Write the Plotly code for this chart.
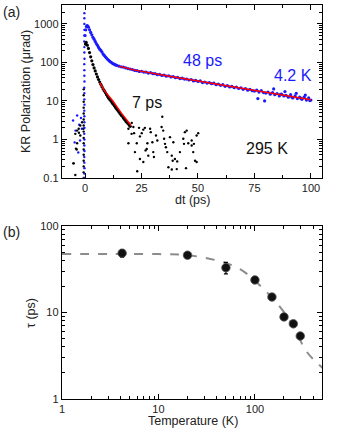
import plotly.graph_objects as go

# ---- panel (a): KR polarization vs delay ----
# 4.2 K trace (blue)
blue_t = [0.0, 0.3, 0.6, 0.9, 1.2, 1.5, 2.0, 2.5, 3.0, 3.5, 4.0, 4.5, 5.0, 5.5, 6.0, 6.5, 7.0, 7.5,
          8.0, 8.5, 9.0, 9.5, 10, 10.5, 11, 11.5, 12, 12.5, 13, 13.5, 14, 15, 16, 17, 18, 19, 20, 21, 22,
          23, 24, 25, 26, 27, 28, 29, 30, 31, 32, 33, 34, 35, 36, 37, 38, 39, 40, 41, 42, 43, 44, 45,
          46, 47, 48, 49, 50, 51, 52, 53, 54, 55, 56, 57, 58, 59, 60, 61, 62, 63, 64, 65, 66, 67, 68,
          69, 70, 71, 72, 73, 74, 75, 76, 77, 78, 79, 80, 81, 82, 83, 84, 85, 86, 87, 88, 89, 90, 91,
          92, 93, 94, 95, 96, 97, 98, 99, 100,
          76.5, 79.5, 83.5, 86.5, 88.5, 91.5, 93.5, 95.5, 97.5, 99.5]
blue_v = [500, 700, 850, 900, 880, 820, 700, 600, 520, 450, 400, 350, 310, 277, 245, 220, 205, 185,
          165, 152, 140, 130, 120, 113, 106, 101, 96, 92, 89, 86, 84, 80, 77, 75, 72, 69, 67, 65, 62,
          61, 58, 59, 56, 56, 53, 54, 51, 51, 48, 49, 46, 47, 44, 45, 42, 43, 40, 41, 38, 39, 37, 37,
          35, 36, 33, 34, 32, 33, 30, 31, 29, 30, 28, 29, 26.5, 27.5, 25.5, 26.5, 24, 25, 23, 24, 22, 23,
          21, 22, 20, 21, 19, 20, 18.5, 18, 19, 17, 18.5, 16.5, 16, 17, 15, 16.5, 14.5, 15.5, 13.5, 15,
          13.5, 14, 12.5, 14.5, 12, 13.5, 11.5, 12.5, 11, 12.5, 10.5, 12, 10.5, 11.5, 10,
          20.5, 14.8, 17.5, 12.6, 15.8, 11.8, 14.2, 10.2, 12.6, 9.4]
blue_pre_t = [-5.3, -4.6, -4.2, -3.5, -3.0, -2.6, -2.2, -1.8, -1.4]
blue_pre_v = [3.1, 0.84, 1.7, 4.2, 0.46, 2.4, 0.94, 3.6, 1.9]
spike_t = [-0.3, -0.35, -0.25, -0.3, -0.35, -0.25, -0.3, -0.3, -0.35, -0.25, -0.3, -0.3, -0.35,
           -0.25, -0.3, -0.3, -0.35, -0.25, -0.3, -0.3, -0.35, -0.25, -0.3, -0.3, -0.35, -0.25,
           -0.3, -0.3, -0.3, -0.3]
spike_v = [0.1, 0.13, 0.18, 0.25, 0.35, 0.5, 0.7, 1.0, 1.4, 2.0, 2.8, 4.0, 5.6, 8, 11, 16, 22, 32,
           45, 63, 90, 125, 180, 250, 350, 500, 700, 1000, 1400, 1900]

# 295 K trace (black)
black_t = [0.2, 0.5, 1.0, 1.5, 2.0, 2.5, 3.0, 3.5, 4.0, 4.5, 5.0, 5.5, 6.0, 6.5, 7.0, 7.5, 8.0,
           8.5, 9.0, 9.5, 10, 10.5, 11, 11.5, 12, 12.5, 13, 13.5, 14, 14.5, 15, 15.5, 16, 16.5, 17,
           17.5, 18, 18.5, 19, 19.5, 20]
black_v = [300, 330, 280, 230, 180, 140, 110, 88, 72, 60, 50, 42, 36, 31, 27, 23.5, 20.5, 18.5,
           16.5, 14.5, 13, 11.8, 10.8, 9.9, 9.0, 8.2, 7.5, 6.8, 6.2, 5.7, 5.2, 4.7, 4.3, 4.0, 3.6,
           3.3, 3.0, 2.8, 2.6, 2.4, 2.2]
black_spike_t = [-0.6] * 16
black_spike_v = [0.1, 0.14, 0.2, 0.28, 0.4, 0.55, 0.8, 1.1, 1.6, 2.3, 3.3, 4.7, 6.7, 9.5, 14, 20]
noise_t = [-5.2, -5.0, -4.3, -4.3, -4.0, -3.7, -3.5, -3.5, -2.8, -2.7, -2.1, -2.1, -1.3, -0.7,
           19.2, 19.2, 20.6, 20.7, 21.4, 21.7, 22.1, 22.9, 23.1, 23.9, 24.3, 24.3, 25.1, 25.8,
           25.8, 26.5, 26.8, 27.3, 27.6, 28.0, 28.8, 29.1, 29.8, 30.2, 30.5, 31.4, 32.0, 33.9,
           34.2, 34.6, 35.0, 35.4, 35.8, 36.4, 36.9, 37.6, 38.4, 38.4, 38.8, 39.1, 39.8, 40.6,
           40.8, 42.0, 43.5, 43.8, 44.2, 44.7, 45.0, 45.7, 47.2, 47.2, 47.9, 48.2, 48.7, 49.4,
           49.4, 50.1]
noise_v = [0.24, 0.24, 1.4, 0.12, 0.58, 0.55, 1.7, 0.8, 1.9, 1.5, 2.3, 1.27, 2.8, 1.9,
           1.9, 0.8, 1.4, 2.7, 2.1, 1.46, 0.47, 0.8, 0.15, 2.0, 0.31, 1.2, 1.46, 0.26,
           1.8, 2.0, 0.52, 0.57, 0.8, 0.38, 1.9, 1.55, 0.85, 0.47, 0.35, 1.27, 0.94, 2.1,
           3.9, 1.7, 1.04, 0.77, 0.63, 0.47, 0.19, 1.15, 0.38, 0.166, 0.28, 0.85, 0.31, 0.17,
           0.27, 0.47, 1.04, 0.77, 1.55, 0.18, 1.7, 0.8, 0.7, 0.94, 0.47, 0.77, 0.28, 1.27,
           0.26, 1.46]

# fits (red)
fit_slow_t = [15, 22, 40, 60, 80, 100]
fit_slow_v = [80, 63, 41, 26.5, 17, 10.8]
fit_fast_t = [6.6, 8.4, 12.4, 16, 20.4]
fit_fast_v = [30, 19, 9.8, 4.9, 2.3]

# ---- panel (b): tau vs temperature ----
temp = [4.2, 20, 50, 100, 150, 200, 250, 295]
tau = [48.5, 46, 33, 23.8, 15.1, 8.9, 7.4, 5.35]
tau_err = [5, 2, 5, 1.5, 1, 0.6, 0.5, 0.3]
curve_T = [1, 3, 10, 20, 40, 70, 120, 185, 250, 345, 500]
curve_tau = [47.5, 47.5, 47.3, 46, 40, 31.7, 19.2, 11.3, 6.9, 3.5, 2.3]

FONT = "Liberation Sans, Arial, sans-serif"

fig = go.Figure()
dot = dict(size=2.4)
fig.add_trace(go.Scatter(x=blue_pre_t, y=blue_pre_v, mode="markers", marker=dict(color="#1a1aff", **dot)))
fig.add_trace(go.Scatter(x=noise_t, y=noise_v, mode="markers", marker=dict(color="black", **dot)))
fig.add_trace(go.Scatter(x=black_spike_t, y=black_spike_v, mode="markers", marker=dict(color="black", **dot)))
fig.add_trace(go.Scatter(x=spike_t, y=spike_v, mode="markers", marker=dict(color="#1a1aff", **dot)))
fig.add_trace(go.Scatter(x=black_t, y=black_v, mode="markers", marker=dict(color="black", size=3.2)))
fig.add_trace(go.Scatter(x=blue_t, y=blue_v, mode="markers", marker=dict(color="#1a1aff", size=3.2)))
fig.add_trace(go.Scatter(x=fit_slow_t, y=fit_slow_v, mode="lines", line=dict(color="red", width=1.5)))
fig.add_trace(go.Scatter(x=fit_fast_t, y=fit_fast_v, mode="lines", line=dict(color="red", width=1.5)))

fig.add_trace(go.Scatter(x=curve_T, y=curve_tau, mode="lines", xaxis="x2", yaxis="y2",
                         line=dict(color="#8c8c8c", width=2, dash="dash", shape="spline")))
fig.add_trace(go.Scatter(x=temp, y=tau, mode="markers", xaxis="x2", yaxis="y2",
                         error_y=dict(type="data", array=tau_err, color="black", thickness=1.2, width=2),
                         marker=dict(size=8.5, color="#111111",
                                     line=dict(color="#555555", width=0.8))))

axis_common = dict(showline=True, linecolor="black", linewidth=1.4, mirror="ticks",
                   ticks="inside", ticklen=5, tickcolor="black", tickwidth=1.2,
                   showgrid=False, zeroline=False, automargin=False,
                   tickfont=dict(family=FONT, size=11, color="#222"))

fig.update_layout(
    width=339, height=433, margin=dict(l=0, r=0, t=0, b=0),
    paper_bgcolor="white", plot_bgcolor="white", showlegend=False,
    font=dict(family=FONT, color="#222"),
    xaxis=dict(domain=[62 / 339, 322 / 339], anchor="y", range=[-10.2, 104.9],
               tickvals=[0, 25, 50, 75, 100],
               minor=dict(ticks="inside", ticklen=3, dtick=12.5, tick0=0, tickcolor="black"),
               **axis_common),
    yaxis=dict(domain=[1 - 178 / 433, 1 - 5 / 433], anchor="x", type="log", range=[-1, 3.49],
               tickvals=[0.1, 1, 10, 100, 1000], ticktext=["0.1", "1", "10", "100", "1000"],
               minor=dict(ticks="inside", ticklen=3, tickcolor="black",
                          tickvals=[v * m for v in [0.1, 1, 10, 100, 1000] for m in range(2, 10)]),
               **axis_common),
    xaxis2=dict(domain=[62 / 339, 322 / 339], anchor="y2", type="log", range=[0, 2.695],
                tickvals=[1, 10, 100], ticktext=["1", "10", "100"],
                minor=dict(ticks="inside", ticklen=3, tickcolor="black",
                           tickvals=[v * m for v in [1, 10, 100] for m in range(2, 10)]),
                **axis_common),
    yaxis2=dict(domain=[1 - 399 / 433, 1 - 226 / 433], anchor="x2", type="log", range=[0, 2],
                tickvals=[1, 10, 100], ticktext=["1", "10", "100"],
                minor=dict(ticks="inside", ticklen=3, tickcolor="black",
                           tickvals=[v * m for v in [1, 10] for m in range(2, 10)]),
                **axis_common),
)

# panel labels, axis titles and in-plot labels (pixel positions of text centres)
ann = [
    dict(text="(a)", x=11, y=12, size=14, color="#222", angle=0),
    dict(text="(b)", x=11, y=232, size=14, color="#222", angle=0),
    dict(text="dt (ps)", x=192, y=200, size=12.5, color="#222", angle=0),
    dict(text="Temperature (K)", x=193, y=421, size=12.5, color="#222", angle=0),
    dict(text="KR Polarization (\u03bcrad)", x=26, y=92, size=12.5, color="#222", angle=-90),
    dict(text="\u03c4 (ps)", x=31, y=313, size=12.5, color="#222", angle=-90),
    dict(text="48 ps", x=202, y=60, size=16, color="#1a1aff", angle=0),
    dict(text="4.2 K", x=293, y=75, size=16, color="#1a1aff", angle=0),
    dict(text="7 ps", x=147, y=102, size=16, color="#111", angle=0),
    dict(text="295 K", x=267, y=148, size=16, color="#111", angle=0),
]
for a in ann:
    fig.add_annotation(text=a["text"], xref="paper", yref="paper", x=a["x"] / 339, y=1 - a["y"] / 433,
                       xanchor="center", yanchor="middle", showarrow=False, textangle=a["angle"],
                       font=dict(family=FONT, size=a["size"], color=a["color"]))

# the page body has a default 8px margin; remove it so the figure fills the window
fig.write_html("out.html", config={"displayModeBar": False},
               post_script="document.body.style.margin='0';")
